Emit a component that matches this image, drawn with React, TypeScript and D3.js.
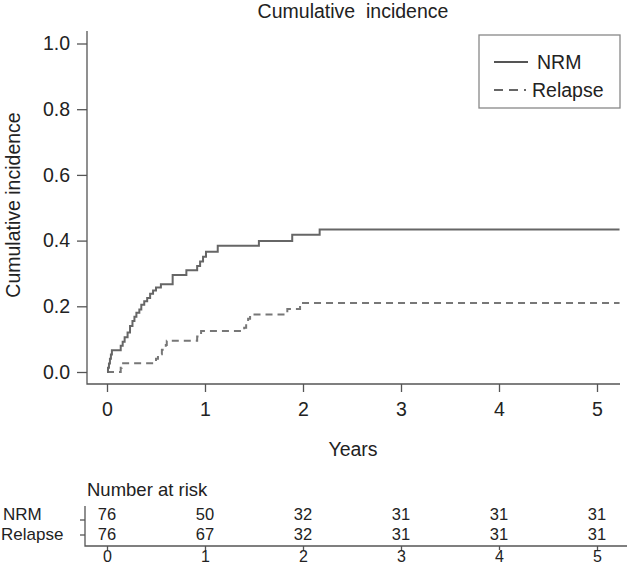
import * as React from "react";
import * as d3 from "d3";

// step points: [years, cumulative incidence]
const nrmTimes = [0, 0.01, 0.02, 0.03, 0.04, 0.05, 0.14, 0.16, 0.18, 0.21, 0.235, 0.26, 0.28, 0.30, 0.33, 0.35, 0.38, 0.41, 0.44, 0.47, 0.50, 0.55, 0.67, 0.81, 0.92, 0.95, 0.98, 1.01, 1.13, 1.55, 1.89, 2.17];
const nrmValues = [0, 0.013, 0.026, 0.04, 0.053, 0.066, 0.08, 0.092, 0.106, 0.12, 0.14, 0.155, 0.168, 0.18, 0.19, 0.205, 0.215, 0.225, 0.238, 0.248, 0.257, 0.267, 0.295, 0.31, 0.323, 0.336, 0.351, 0.366, 0.384, 0.399, 0.418, 0.434];
const relapseTimes = [0, 0.14, 0.15, 0.50, 0.52, 0.56, 0.60, 0.61, 0.92, 0.96, 1.40, 1.42, 1.44, 1.46, 1.84, 1.97];
const relapseValues = [0, 0.013, 0.027, 0.04, 0.054, 0.068, 0.082, 0.095, 0.108, 0.125, 0.135, 0.148, 0.162, 0.175, 0.192, 0.21];
const endTime = 5.23;

const yearTicks = [0, 1, 2, 3, 4, 5];
const incidenceTicks = [0, 0.2, 0.4, 0.6, 0.8, 1.0];
const groups = ["NRM", "Relapse"];
const nrmAtRisk = [76, 50, 32, 31, 31, 31];
const relapseAtRisk = [76, 67, 32, 31, 31, 31];

const FONT = "'Liberation Sans', Arial, Helvetica, sans-serif";
const FS = 19.5;
const TFS = 16.5; // table text

export default function App() {
  const x = d3.scaleLinear().domain([0, 5]).range([107, 597]);
  const y = d3.scaleLinear().domain([0, 1]).range([372, 43.5]);
  const axisY = 384;
  const leftX = 87;

  const toPts = (ts: number[], vs: number[]): [number, number][] => {
    const pts: [number, number][] = ts.map((t, i) => [t, vs[i]]);
    pts.push([endTime, vs[vs.length - 1]]);
    return pts;
  };
  const line = d3
    .line<[number, number]>()
    .x((d) => x(d[0]))
    .y((d) => y(d[1]))
    .curve(d3.curveStepAfter);

  const style = (sel: d3.Selection<SVGGElement, unknown, null, undefined>, fs: number) => {
    sel.select(".domain").remove();
    sel.selectAll("line").attr("stroke", "#555").attr("stroke-width", 1.3);
    sel.selectAll("text").attr("font-family", FONT).attr("font-size", fs).attr("fill", "#222");
  };

  const yAxisRef = (g: SVGGElement | null) => {
    if (!g) return;
    const sel = d3.select(g);
    sel.call(
      d3.axisLeft(y).tickValues(incidenceTicks).tickFormat(d3.format(".1f")).tickSize(10).tickPadding(7).tickSizeOuter(0)
    );
    style(sel, FS);
  };
  const xAxisRef = (g: SVGGElement | null) => {
    if (!g) return;
    const sel = d3.select(g);
    sel.call(d3.axisBottom(x).tickValues(yearTicks).tickFormat(d3.format("d")).tickSize(8).tickPadding(10).tickSizeOuter(0));
    style(sel, FS);
  };
  const riskAxisRef = (g: SVGGElement | null) => {
    if (!g) return;
    const sel = d3.select(g);
    sel.call(d3.axisBottom(x).tickValues(yearTicks).tickFormat(d3.format("d")).tickSize(4).tickPadding(1).tickSizeOuter(0));
    style(sel, 16);
  };

  const rowY = [514, 534];
  const tableAxisY = 546;
  const tableLeft = 85;

  return (
    <svg
      width={627}
      height={566}
      style={{ position: "absolute", left: 0, top: 0, background: "#fff" }}
      fontFamily={FONT}
    >
      <text x={353} y={18} textAnchor="middle" fontSize={FS} fill="#222" style={{ whiteSpace: "pre" }}>
        {"Cumulative  incidence"}
      </text>

      {/* L-shaped box */}
      <path d={`M${leftX},31V${axisY}H620`} fill="none" stroke="#555" strokeWidth={1.3} />
      <g ref={yAxisRef} transform={`translate(${leftX},0)`} />
      <g ref={xAxisRef} transform={`translate(0,${axisY})`} />

      <text transform={`translate(20,205) rotate(-90)`} textAnchor="middle" fontSize={FS} fill="#222">
        Cumulative incidence
      </text>
      <text x={353} y={456} textAnchor="middle" fontSize={FS} fill="#222">
        Years
      </text>

      <path d={line(toPts(relapseTimes, relapseValues)) || ""} fill="none" stroke="#777" strokeWidth={2} strokeDasharray="7,5" />
      <path d={line(toPts(nrmTimes, nrmValues)) || ""} fill="none" stroke="#666" strokeWidth={2} />

      {/* legend */}
      <rect x={479} y={35} width={141} height={73} fill="#fff" stroke="#888" strokeWidth={1.3} />
      <line x1={494} x2={528} y1={62} y2={62} stroke="#555" strokeWidth={2} />
      <line x1={494} x2={526} y1={90} y2={90} stroke="#666" strokeWidth={2} strokeDasharray="9,6" />
      <text x={537} y={62} dominantBaseline="central" fontSize={FS} fill="#222">NRM</text>
      <text x={532} y={90} dominantBaseline="central" fontSize={FS} fill="#222">Relapse</text>

      {/* number at risk table */}
      <text x={87} y={489} dominantBaseline="central" fontSize={FS - 1} fill="#222">Number at risk</text>
      <text x={3} y={rowY[0]} dominantBaseline="central" fontSize={17} fill="#222">{groups[0]}</text>
      <text x={1} y={rowY[1]} dominantBaseline="central" fontSize={17} fill="#222">{groups[1]}</text>
      {nrmAtRisk.map((n, i) => (
        <text key={"n" + i} x={x(yearTicks[i])} y={rowY[0]} textAnchor="middle" dominantBaseline="central" fontSize={TFS} fill="#222">
          {n}
        </text>
      ))}
      {relapseAtRisk.map((n, i) => (
        <text key={"r" + i} x={x(yearTicks[i])} y={rowY[1]} textAnchor="middle" dominantBaseline="central" fontSize={TFS} fill="#222">
          {n}
        </text>
      ))}
      <path d={`M${tableLeft},506V${tableAxisY}H627`} fill="none" stroke="#555" strokeWidth={1.3} />
      <line x1={80} x2={tableLeft} y1={520} y2={520} stroke="#555" strokeWidth={1.3} />
      <line x1={80} x2={tableLeft} y1={535} y2={535} stroke="#555" strokeWidth={1.3} />
      <g ref={riskAxisRef} transform={`translate(0,${tableAxisY})`} />
    </svg>
  );
}
